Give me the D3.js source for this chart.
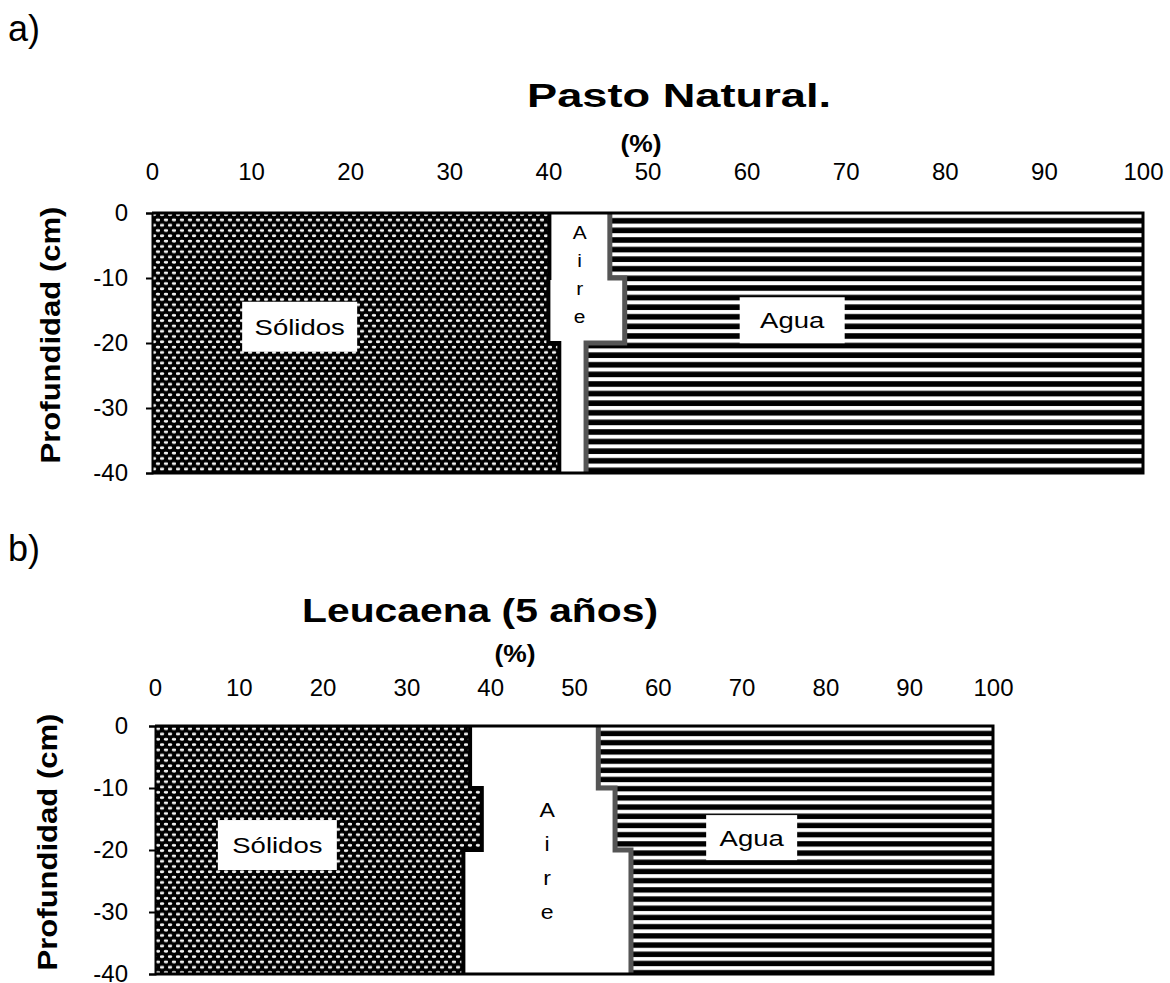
<!DOCTYPE html>
<html>
<head>
<meta charset="utf-8">
<script src="https://cdn.jsdelivr.net/npm/d3@7"></script>
<style>
body{margin:0;background:#fff;}
text{font-family:"Liberation Sans",Arial,sans-serif;fill:#000;}
</style>
</head>
<body>
<svg id="fig" width="1170" height="983"></svg>
<script>
// depth layers (cm) and tick labels
var depths = [0, -10, -20, -30, -40];
var xTicks = [0, 10, 20, 30, 40, 50, 60, 70, 80, 90, 100];
var yTicks = [0, -10, -20, -30, -40];

// a) Pasto Natural : % of volume for each layer (0-10, 10-20, 20-30, 30-40)
var pastoSolidos = [40.1, 40.0, 41.1, 41.1];
var pastoAire = [6.1, 7.7, 2.7, 2.7];

// b) Leucaena (5 años)
var leucSolidos = [37.6, 39.0, 36.8, 36.8];
var leucAire = [15.3, 15.9, 20.0, 20.0];

var svg = d3.select("#fig");
var defs = svg.append("defs");

// dotted fill for the solids
var dots = defs.append("pattern")
	.attr("id", "dots")
	.attr("patternUnits", "userSpaceOnUse")
	.attr("width", 8).attr("height", 10.6);
dots.append("rect").attr("width", 8).attr("height", 10.6).attr("fill", "#000");
dots.append("ellipse").attr("cx", 2).attr("cy", 2.6).attr("rx", 2.3).attr("ry", 1.4).attr("fill", "#f2f2f2");
dots.append("ellipse").attr("cx", 6).attr("cy", 7.9).attr("rx", 2.3).attr("ry", 1.4).attr("fill", "#f2f2f2");

function stripes(id, y0, period, white){
	var p = defs.append("pattern")
		.attr("id", id)
		.attr("patternUnits", "userSpaceOnUse")
		.attr("x", 0).attr("y", y0)
		.attr("width", 20).attr("height", period);
	p.append("rect").attr("width", 20).attr("height", period).attr("fill", "#000");
	p.append("rect").attr("y", 1).attr("width", 20).attr("height", white).attr("fill", "#fff");
}

// stretched text helper (the figure's lettering is wider than Arial)
function stext(g, x, y, str, size, sx, weight, anchor){
	return g.append("text")
		.attr("transform", "translate(" + x + "," + y + ") scale(" + sx + ",1)")
		.attr("text-anchor", anchor || "middle")
		.style("font-size", size + "px")
		.style("font-weight", weight || "normal")
		.text(str);
}

var panels = [
	{id:"a", letter:"a)", letterY:41, title:"Pasto Natural.", titleX:679, titleY:107, titleSx:1.33,
	 pctX:641, pctY:152, x0:152, x1:1143, y0:213, y1:473, tickPad:33, yPad:18, ytitleX:60,
	 period:9.6, white:4,
	 solidos:pastoSolidos, aire:pastoAire,
	 aireLayer:0, aireY:239, aireStep:28, aireSize:19,
	 boxes:[{t:"Sólidos", x:14.9, y:-17.5, w:115, h:50}, {t:"Agua", x:64.6, y:-16.5, w:105, h:46}]},
	{id:"b", letter:"b)", letterY:561, title:"Leucaena (5 años)", titleX:480, titleY:622, titleSx:1.2,
	 pctX:515, pctY:662, x0:155, x1:993, y0:726, y1:974, tickPad:30, yPad:21, ytitleX:57,
	 period:9.2, white:3.8,
	 solidos:leucSolidos, aire:leucAire,
	 aireLayer:2, aireY:817, aireStep:34, aireSize:21,
	 boxes:[{t:"Sólidos", x:14.6, y:-19.2, w:119, h:50}, {t:"Agua", x:71.2, y:-18, w:91, h:45}]}
];

panels.forEach(function(p){
	var g = svg.append("g").attr("class", "panel-" + p.id);

	var xs = d3.scaleLinear().domain([0, 100]).range([p.x0, p.x1]);
	var ys = d3.scaleLinear().domain([0, -40]).range([p.y0, p.y1]);

	stripes("water-" + p.id, p.y0, p.period, p.white);

	var layers = p.solidos.map(function(s, i){
		return {top:depths[i], bottom:depths[i + 1], s:s, a:p.aire[i]};
	});

	// Sólidos
	g.selectAll("rect.sol").data(layers).enter().append("rect")
		.attr("class", "sol")
		.attr("x", xs(0))
		.attr("y", function(d){ return ys(d.top); })
		.attr("width", function(d){ return xs(d.s) - xs(0); })
		.attr("height", function(d){ return ys(d.bottom) - ys(d.top); })
		.attr("fill", "url(#dots)");

	// Aire
	g.selectAll("rect.air").data(layers).enter().append("rect")
		.attr("class", "air")
		.attr("x", function(d){ return xs(d.s); })
		.attr("y", function(d){ return ys(d.top); })
		.attr("width", function(d){ return xs(d.s + d.a) - xs(d.s); })
		.attr("height", function(d){ return ys(d.bottom) - ys(d.top); })
		.attr("fill", "#fff");

	// Agua
	g.selectAll("rect.wat").data(layers).enter().append("rect")
		.attr("class", "wat")
		.attr("x", function(d){ return xs(d.s + d.a); })
		.attr("y", function(d){ return ys(d.top); })
		.attr("width", function(d){ return xs(100) - xs(d.s + d.a); })
		.attr("height", function(d){ return ys(d.bottom) - ys(d.top); })
		.attr("fill", "url(#water-" + p.id + ")");

	// step boundaries
	var line = d3.line().x(function(d){ return xs(d[0]); }).y(function(d){ return ys(d[1]); });
	function steps(f){
		var pts = [];
		layers.forEach(function(d){ pts.push([f(d), d.top]); pts.push([f(d), d.bottom]); });
		return pts;
	}
	g.append("path").attr("d", line(steps(function(d){ return d.s; })))
		.attr("fill", "none").attr("stroke", "#000").attr("stroke-width", 4);
	g.append("path").attr("d", line(steps(function(d){ return d.s + d.a; })))
		.attr("fill", "none").attr("stroke", "#555").attr("stroke-width", 5);

	// frame
	g.append("path")
		.attr("d", line([[0, 0], [100, 0], [100, -40], [0, -40]]))
		.attr("fill", "none").attr("stroke", "#000").attr("stroke-width", 3);

	// axes
	var yAxis = d3.axisLeft(ys).tickValues(yTicks).tickSize(6).tickPadding(p.yPad)
		.tickFormat(String);
	var ya = g.append("g").attr("transform", "translate(" + p.x0 + ",0)").call(yAxis);
	ya.select(".domain").attr("stroke", "#000").attr("stroke-width", 2);
	ya.selectAll("line").attr("stroke", "#000").attr("stroke-width", 2);
	ya.selectAll("text").style("font-size", "24px").attr("fill", "#000")
		.style("font-family", "'Liberation Sans',Arial,sans-serif");

	var xAxis = d3.axisTop(xs).tickValues(xTicks).tickSize(0).tickPadding(p.tickPad);
	var xa = g.append("g").attr("transform", "translate(0," + p.y0 + ")").call(xAxis);
	xa.select(".domain").remove();
	xa.selectAll("text").style("font-size", "24px").attr("fill", "#000")
		.style("font-family", "'Liberation Sans',Arial,sans-serif");

	// titles
	stext(g, 8, p.letterY, p.letter, 36, 1, "normal", "start");
	stext(g, p.titleX, p.titleY, p.title, 34, p.titleSx, "bold");
	stext(g, p.pctX, p.pctY, "(%)", 24, 1.1, "bold");
	g.append("text")
		.attr("transform", "translate(" + p.ytitleX + "," + ((p.y0 + p.y1) / 2 - 8) + ") rotate(-90) scale(1.15,1)")
		.attr("text-anchor", "middle")
		.style("font-size", "27px").style("font-weight", "bold")
		.text("Profundidad (cm)");

	// white boxed labels
	p.boxes.forEach(function(b){
		var bg = g.append("g").attr("transform", "translate(" + xs(b.x) + "," + ys(b.y) + ")");
		bg.append("rect").attr("x", -b.w / 2).attr("y", -b.h / 2).attr("width", b.w).attr("height", b.h).attr("fill", "#fff");
		stext(bg, 0, 8, b.t, 22, 1.25, "normal");
	});

	// "Aire" written top to bottom
	var L = layers[p.aireLayer];
	var ax = xs(L.s + L.a / 2);
	"Aire".split("").forEach(function(c, i){
		stext(g, ax, p.aireY + i * p.aireStep, c, p.aireSize, 1.1, "normal");
	});
});
</script>
</body>
</html>
